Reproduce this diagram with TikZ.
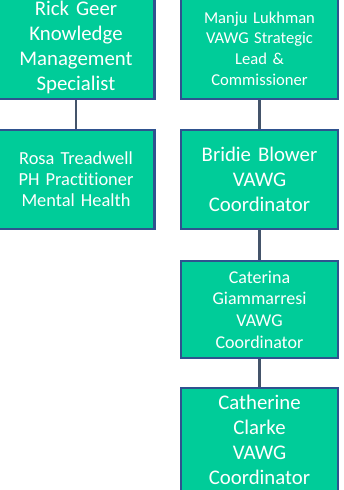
\documentclass[tikz,border=0pt]{standalone}
\usepackage{fontspec}
\setmainfont[Ligatures=NoCommon]{Carlito}
\usepackage{xcolor}
\definecolor{boxfill}{RGB}{0,204,153}
\definecolor{boxedge}{RGB}{47,82,143}
\definecolor{linkcol}{RGB}{68,84,106}

\begin{document}
\begin{tikzpicture}[x=1pt, y=-1pt,
  orgbox/.style={draw=boxedge, line width=2.5pt, fill=boxfill, text=white,
    align=center, minimum width=157pt, text width=152pt, inner sep=0pt},
  big/.style={font=\fontsize{20.8}{25}\selectfont},
  small/.style={font=\fontsize{18.4}{21}\selectfont},
  link/.style={draw=linkcol, line width=2.5pt}]
  % Cadre de la figure
  \useasboundingbox (0,0) rectangle (343,490);

  % Colonne de gauche
  \node[orgbox, big, minimum height=103pt] (rick) at (76,47.5)
    {Rick Geer\\Knowledge\\Management\\Specialist};
  \node[orgbox, small, minimum height=99pt] (rosa) at (76,179.5)
    {Rosa Treadwell\\PH Practitioner\\Mental Health};

  % Colonne de droite
  \node[orgbox, font=\fontsize{16.6}{20.8}\selectfont, minimum height=101pt] (manju) at (259.5,48.5)
    {Manju Lukhman\\VAWG Strategic\\Lead \&\\Commissioner};
  \node[orgbox, big, minimum height=99pt] (bridie) at (259.5,179.5)
    {Bridie Blower\\VAWG\\Coordinator};
  \node[orgbox, font=\fontsize{18}{21.7}\selectfont, minimum height=97pt] (caterina) at (259.5,309.5)
    {Caterina\\Giammarresi\\VAWG\\Coordinator};
  \node[orgbox, big, minimum height=104pt] (catherine) at (259.5,440)
    {Catherine\\Clarke\\VAWG\\Coordinator};

  % Liens
  \draw[link] (rick.south) -- (rosa.north);
  \draw[link] (manju.south) -- (bridie.north);
  \draw[link] (bridie.south) -- (caterina.north);
  \draw[link] (caterina.south) -- (catherine.north);
\end{tikzpicture}
\end{document}
